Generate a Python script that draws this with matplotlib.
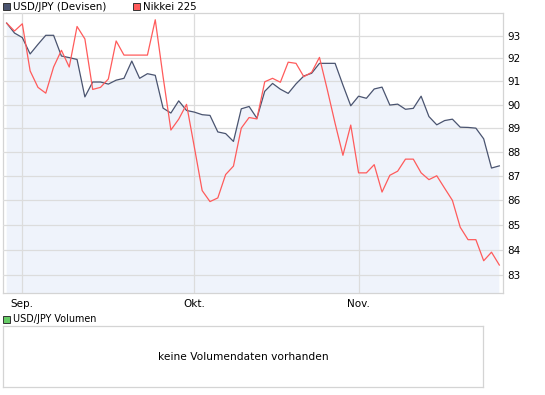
import matplotlib
matplotlib.use('Agg')
import matplotlib.pyplot as plt
from matplotlib.patches import Rectangle
from matplotlib.ticker import FixedLocator, FixedFormatter, NullLocator

plt.rcParams['font.family'] = ['DejaVu Sans']

# USD/JPY close and Nikkei 225 (scaled onto the same axis), one value per trading day
usd = [93.55, 93.11, 92.91, 92.19, 92.61, 93.01, 93.01, 92.10, 92.03, 91.95,
       90.33, 90.97, 90.97, 90.88, 91.05, 91.13, 91.88, 91.13, 91.33, 91.26,
       89.85, 89.64, 90.16, 89.75, 89.68, 89.57, 89.54, 88.84, 88.77, 88.44,
       89.82, 89.92, 89.42, 90.57, 90.91, 90.66, 90.48, 90.89, 91.23, 91.35,
       91.78, 91.78, 91.78, 90.84, 89.95, 90.36, 90.27, 90.67, 90.75, 89.98,
       90.02, 89.80, 89.84, 90.36, 89.49, 89.14, 89.32, 89.38, 89.04, 89.03,
       89.00, 88.55, 87.33, 87.42]
nikkei = [93.55, 93.20, 93.52, 91.45, 90.74, 90.49, 91.62, 92.35, 91.62, 93.40,
          92.85, 90.65, 90.74, 91.10, 92.76, 92.14, 92.14, 92.14, 92.14, 93.70,
          91.20, 88.92, 89.38, 90.01, 88.20, 86.40, 85.95, 86.10, 87.06, 87.41,
          89.00, 89.45, 89.39, 90.98, 91.13, 90.96, 91.83, 91.78, 91.20, 91.39,
          92.04, 90.64, 89.20, 87.86, 89.13, 87.13, 87.13, 87.47, 86.34, 87.03,
          87.20, 87.70, 87.70, 87.13, 86.85, 87.01, 86.50, 86.00, 84.91, 84.41,
          84.41, 83.57, 83.91, 83.40]
month_idx = [2, 24, 45]
month_labels = ['Sep.', 'Okt.', 'Nov.']
y_ticks = [83, 84, 85, 86, 87, 88, 89, 90, 91, 92, 93]

W, H = 545, 395
fig = plt.figure(figsize=(W / 100, H / 100), dpi=100)

grid_c = '#dcdcdc'
usd_c = '#4a5470'
nk_c = '#ff5b5b'

# main chart: pixel box 3..503 x 13..293
ax = fig.add_axes([3 / W, (H - 293) / H, 500 / W, 280 / H])
x = list(range(len(usd)))
ax.fill_between(x, usd, 1, color='#eff3fb', lw=0, zorder=1)
ax.plot(x, usd, color=usd_c, lw=0.9, zorder=3)
ax.plot(x, nikkei, color=nk_c, lw=0.9, zorder=4)

ax.set_yscale('log')
ax.set_ylim(82.3, 94.0)
ax.set_xlim(-0.47, 63.47)
ax.yaxis.set_major_locator(FixedLocator(y_ticks))
ax.yaxis.set_major_formatter(FixedFormatter([str(v) for v in y_ticks]))
ax.yaxis.set_minor_locator(NullLocator())
ax.yaxis.tick_right()
ax.set_xticks(month_idx)
ax.set_xticklabels(month_labels)
ax.tick_params(axis='both', length=0, labelsize=7.5, colors='black')
ax.tick_params(axis='y', pad=3)
ax.tick_params(axis='x', pad=4)
ax.grid(True, color=grid_c, lw=0.9, zorder=2)
ax.set_axisbelow(False)
for s in ax.spines.values():
    s.set_color('#d4d4d4')
    s.set_linewidth(0.9)

# legend row at top
def legend_box(px, py, color, label, size):
    fig.patches.append(Rectangle((px / W, 1 - (py + 7) / H), 7 / W, 7 / H,
                                 transform=fig.transFigure, facecolor=color,
                                 edgecolor='#333333', lw=0.7))
    fig.text((px + 10) / W, 1 - (py + 3.5) / H, label, fontsize=size,
             va='center', ha='left')

legend_box(3, 3, usd_c, 'USD/JPY (Devisen)', 7.4)
legend_box(133, 3, nk_c, 'Nikkei 225', 7.4)

# volume panel
legend_box(3, 316, '#66cc66', 'USD/JPY Volumen', 6.9)
vax = fig.add_axes([3 / W, (H - 387) / H, 480 / W, 61 / H])
vax.set_xticks([])
vax.set_yticks([])
for s in vax.spines.values():
    s.set_color('#d4d4d4')
    s.set_linewidth(0.9)
vax.text(0.5, 0.5, 'keine Volumendaten vorhanden', transform=vax.transAxes,
         ha='center', va='center', fontsize=7.7)

fig.savefig('out.png', dpi=100)
